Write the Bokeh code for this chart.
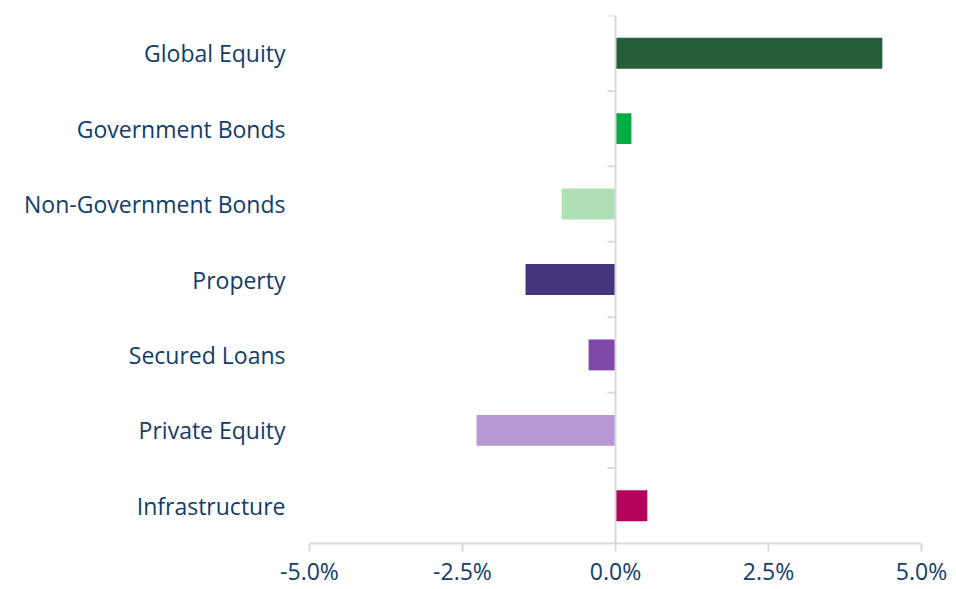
from bokeh.plotting import figure
from bokeh.models import ColumnDataSource, Range1d, FixedTicker
from bokeh.embed import file_html
from bokeh.resources import INLINE

# ---- data ----
categories = ["Global Equity", "Government Bonds", "Non-Government Bonds", "Property",
              "Secured Loans", "Private Equity", "Infrastructure"]
values = [4.36, 0.26, -0.88, -1.47, -0.44, -2.27, 0.52]
colors = ["#275e3a", "#00ad43", "#b0dfb4", "#46347f", "#8248a9", "#b898d2", "#b5035b"]
xticks = [-5.0, -2.5, 0.0, 2.5, 5.0]
xtick_labels = ["-5.0%", "-2.5%", "0.0%", "2.5%", "5.0%"]

# ---- styles ----
TEXT = "#123d6a"
AXIS = "#d9dae0"
FONT = "Open Sans"
FSIZE = "23px"

n = len(categories)
ypos = [n - 1 - i for i in range(n)]
src = ColumnDataSource(dict(y=ypos, v=values, c=colors, zero=[0] * n))

p = figure(width=952, height=589, output_backend="svg", toolbar_location=None,
           x_range=Range1d(-5, 5), y_range=Range1d(-0.5, n - 0.5),
           min_border_left=309, min_border_right=31, min_border_top=15, min_border_bottom=46)
p.outline_line_color = None
p.xgrid.visible = False
p.ygrid.visible = False
p.background_fill_color = "white"
p.border_fill_color = "white"

p.hbar(y="y", left="zero", right="v", height=0.41, fill_color="c", line_color=None, source=src)

# zero line with category-boundary ticks
bounds = [b + 0.5 for b in range(n)]
tick_len = 8 / 61.2
p.segment(x0=[0], x1=[0], y0=[-0.5], y1=[n - 0.5], line_color=AXIS, line_width=2)
p.segment(x0=[-tick_len] * len(bounds), x1=[0] * len(bounds), y0=bounds, y1=bounds,
          line_color=AXIS, line_width=2)

# x axis
xa = p.xaxis[0]
xa.ticker = FixedTicker(ticks=xticks)
xa.major_label_overrides = {t: l for t, l in zip(xticks, xtick_labels)}
xa.axis_line_color = AXIS
xa.axis_line_width = 2
xa.major_tick_line_color = AXIS
xa.major_tick_line_width = 2
xa.major_tick_in = 0
xa.major_tick_out = 8
xa.minor_tick_line_color = None
xa.major_label_standoff = 3
xa.major_label_text_color = TEXT
xa.major_label_text_font = FONT
xa.major_label_text_font_size = FSIZE

# y axis (category labels)
ya = p.yaxis[0]
ya.ticker = FixedTicker(ticks=ypos)
ya.major_label_overrides = {y: c for y, c in zip(ypos, categories)}
ya.axis_line_color = None
ya.major_tick_line_color = None
ya.minor_tick_line_color = None
ya.major_tick_in = 0
ya.major_tick_out = 0
ya.major_label_standoff = 24
ya.major_label_text_color = TEXT
ya.major_label_text_font = FONT
ya.major_label_text_font_size = FSIZE

open("out.html", "w").write(file_html(p, INLINE))
